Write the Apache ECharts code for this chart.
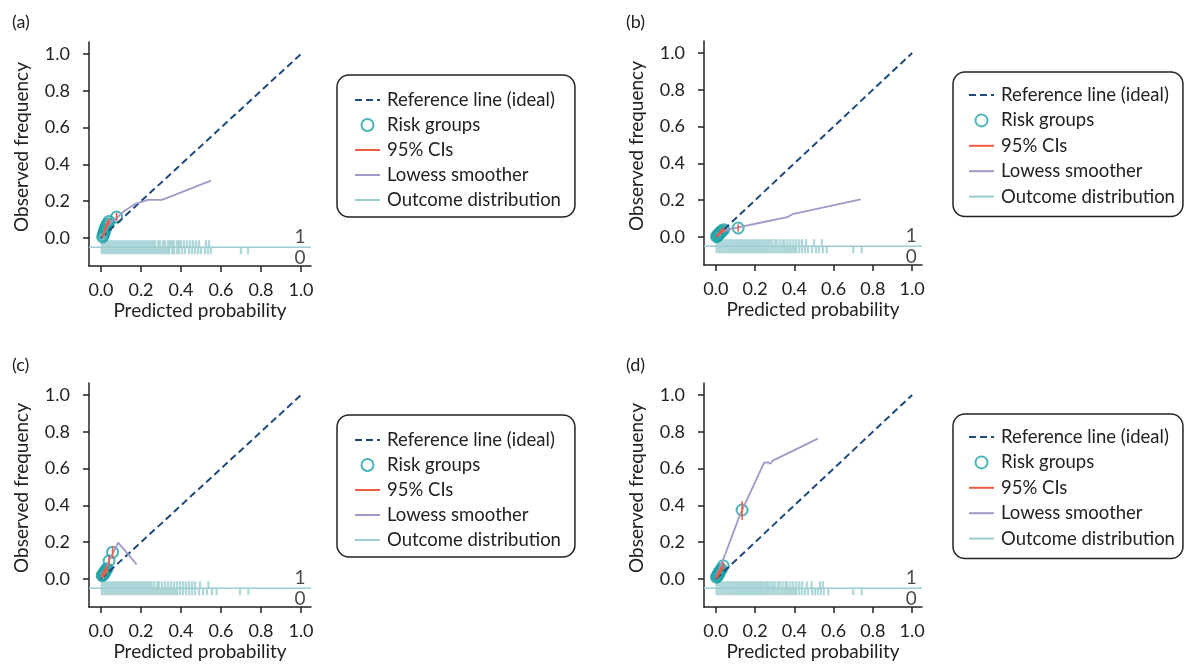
<!DOCTYPE html>
<html><head><meta charset="utf-8">
<script src="https://cdn.jsdelivr.net/npm/echarts@6/dist/echarts.min.js"></script>
<style>html,body{margin:0;padding:0;background:#fff}#c{width:1187px;height:664px}</style>
</head><body><div id="c"></div>
<script>
// ---------- text & ticks ----------
const tickValues = [0, 0.2, 0.4, 0.6, 0.8, 1.0];
const panelTags = ['(a)', '(b)', '(c)', '(d)'];
const seriesNames = ['Reference line (ideal)', 'Risk groups', '95% CIs', 'Lowess smoother', 'Outcome distribution'];
const xAxisTitle = 'Predicted probability';
const yAxisTitle = 'Observed frequency';
const outcomeLabels = ['1', '0'];
const outcomeLabelY = [0.005, -0.11];
const outcomeLabelX = 0.995;
const refLineX = [0, 1];
const refLineY = [0, 1];
const rugLevel = -0.05;
const X_MIN = -0.06, X_MAX = 1.05, Y_MIN = -0.152, Y_MAX = 1.065;

// ---------- panel (a) ----------
const groupXa = [0.008,0.012,0.015,0.018,0.021,0.024,0.028,0.033,0.040,0.078];
const groupYa = [0.006,0.016,0.027,0.038,0.048,0.058,0.068,0.078,0.090,0.114];
const ciLowA  = [0.000,0.008,0.018,0.028,0.037,0.046,0.055,0.064,0.074,0.092];
const ciHighA = [0.013,0.024,0.036,0.048,0.059,0.070,0.081,0.092,0.106,0.137];
const lowessXa = [0.010,0.020,0.030,0.050,0.080,0.120,0.170,0.235,0.305,0.550];
const lowessYa = [0.005,0.035,0.062,0.088,0.110,0.150,0.185,0.207,0.207,0.312];
const rugOneA = [0.004,0.014,0.024,0.034,0.044,0.054,0.064,0.074,0.084,0.094,0.104,0.114,0.124,0.134,0.144,0.154,0.164,0.174,0.184,0.194,0.204,0.214,0.224,0.234,0.244,0.254,0.264,0.27,
  0.285,0.295,0.31,0.32,0.335,0.345,0.355,0.365,0.38,0.39,0.40,0.415,0.43,0.445,0.46,0.475,0.49,0.525,0.54];
const rugZeroA = [0.004,0.014,0.024,0.034,0.044,0.054,0.064,0.074,0.084,0.094,0.104,0.114,0.124,0.134,0.144,0.154,0.164,0.174,0.184,0.194,0.204,0.214,0.224,0.234,0.244,0.254,0.264,0.274,0.284,0.294,0.304,0.314,0.324,0.334,0.34,
  0.355,0.365,0.38,0.39,0.405,0.42,0.44,0.455,0.47,0.485,0.50,0.52,0.535,0.55,0.70,0.735];

// ---------- panel (b) ----------
const groupXb = [0.004,0.008,0.011,0.014,0.018,0.022,0.026,0.031,0.040,0.114];
const groupYb = [0.002,0.006,0.010,0.014,0.018,0.023,0.028,0.033,0.040,0.049];
const ciLowB  = [0.000,0.001,0.004,0.007,0.010,0.014,0.018,0.022,0.028,0.030];
const ciHighB = [0.006,0.011,0.016,0.021,0.026,0.032,0.038,0.044,0.052,0.068];
const lowessXb = [0.003,0.030,0.060,0.120,0.250,0.365,0.390,0.738];
const lowessYb = [0.000,0.025,0.040,0.054,0.083,0.108,0.124,0.204];
const rugOneB = [0.004,0.014,0.024,0.034,0.044,0.054,0.064,0.074,0.084,0.094,0.104,0.114,0.124,0.134,0.144,0.154,0.164,0.174,0.184,0.194,0.204,0.214,0.224,0.234,0.244,0.254,0.264,0.274,
  0.285,0.30,0.31,0.325,0.34,0.35,0.365,0.38,0.395,0.41,0.425,0.44,0.46,0.50,0.54];
const rugZeroB = [0.004,0.014,0.024,0.034,0.044,0.054,0.064,0.074,0.084,0.094,0.104,0.114,0.124,0.134,0.144,0.154,0.164,0.174,0.184,0.194,0.204,0.214,0.224,0.234,0.244,0.254,0.264,0.274,0.284,0.294,0.304,0.314,0.324,0.334,0.344,0.354,0.364,0.374,0.384,0.394,0.404,0.41,
  0.425,0.44,0.455,0.47,0.49,0.51,0.525,0.545,0.565,0.70,0.743];

// ---------- panel (c) ----------
const groupXc = [0.006,0.009,0.012,0.015,0.018,0.021,0.025,0.030,0.040,0.058];
const groupYc = [0.018,0.022,0.026,0.031,0.036,0.042,0.049,0.056,0.098,0.146];
const ciLowC  = [0.005,0.009,0.013,0.017,0.021,0.026,0.032,0.038,0.072,0.112];
const ciHighC = [0.031,0.035,0.040,0.045,0.051,0.058,0.066,0.074,0.125,0.180];
const lowessXc = [0.007,0.020,0.040,0.086,0.178];
const lowessYc = [0.000,0.040,0.100,0.198,0.080];
const rugOneC = [0.004,0.014,0.024,0.034,0.044,0.054,0.064,0.074,0.084,0.094,0.104,0.114,0.124,0.134,0.144,0.154,0.164,0.174,0.184,0.194,0.204,0.214,0.224,0.234,0.244,0.253,
  0.265,0.28,0.29,0.305,0.32,0.335,0.35,0.365,0.38,0.395,0.41,0.425,0.44,0.455,0.47,0.495,0.537];
const rugZeroC = [0.004,0.014,0.024,0.034,0.044,0.054,0.064,0.074,0.084,0.094,0.104,0.114,0.124,0.134,0.144,0.154,0.164,0.174,0.184,0.194,0.204,0.214,0.224,0.234,0.244,0.254,0.264,0.274,0.284,0.294,0.304,0.314,0.324,0.334,0.344,0.354,0.364,0.374,0.38,
  0.395,0.41,0.425,0.44,0.455,0.47,0.49,0.51,0.53,0.555,0.578,0.695,0.737];

// ---------- panel (d) ----------
const groupXd = [0.004,0.007,0.010,0.013,0.016,0.019,0.023,0.028,0.038,0.134];
const groupYd = [0.010,0.015,0.020,0.026,0.032,0.038,0.045,0.053,0.072,0.375];
const ciLowD  = [0.002,0.006,0.010,0.015,0.020,0.025,0.031,0.038,0.052,0.322];
const ciHighD = [0.018,0.024,0.030,0.037,0.044,0.051,0.059,0.068,0.092,0.422];
const lowessXd = [0.003,0.050,0.122,0.246,0.265,0.277,0.290,0.520];
const lowessYd = [0.015,0.140,0.346,0.632,0.634,0.626,0.643,0.763];
const rugOneD = [0.004,0.014,0.024,0.034,0.044,0.054,0.064,0.074,0.084,0.094,0.104,0.114,0.124,0.134,0.144,0.154,0.164,0.174,0.184,0.194,0.204,0.214,0.224,0.234,0.244,0.254,0.264,0.267,
  0.28,0.29,0.30,0.315,0.325,0.34,0.355,0.365,0.38,0.395,0.41,0.425,0.44,0.463,0.488,0.53,0.545];
const rugZeroD = [0.004,0.014,0.024,0.034,0.044,0.054,0.064,0.074,0.084,0.094,0.104,0.114,0.124,0.134,0.144,0.154,0.164,0.174,0.184,0.194,0.204,0.214,0.224,0.234,0.244,0.254,0.264,0.274,0.284,0.294,0.304,0.314,0.324,0.334,0.344,0.354,0.364,0.374,0.384,0.394,0.404,0.41,
  0.425,0.44,0.455,0.47,0.49,0.505,0.52,0.535,0.55,0.573,0.70,0.743];

// ---------- assembly ----------
const panels = [
  {gx: groupXa, gy: groupYa, lo: ciLowA, hi: ciHighA, lx: lowessXa, ly: lowessYa, r1: rugOneA, r0: rugZeroA},
  {gx: groupXb, gy: groupYb, lo: ciLowB, hi: ciHighB, lx: lowessXb, ly: lowessYb, r1: rugOneB, r0: rugZeroB},
  {gx: groupXc, gy: groupYc, lo: ciLowC, hi: ciHighC, lx: lowessXc, ly: lowessYc, r1: rugOneC, r0: rugZeroC},
  {gx: groupXd, gy: groupYd, lo: ciLowD, hi: ciHighD, lx: lowessXd, ly: lowessYd, r1: rugOneD, r0: rugZeroD}
];
const layouts = [
  {grid:{left:89, top:42, width:222, height:224}, legend:{left:337, top:75, padding:[15,14,7,17], itemGap:5}, tag:{left:12, top:13}},
  {grid:{left:704, top:41, width:218, height:224}, legend:{left:953, top:72, padding:[13,8,10,15], itemGap:5.4}, tag:{left:626, top:13}},
  {grid:{left:89, top:383, width:222, height:224}, legend:{left:337, top:415, padding:[15,14,7,17], itemGap:5}, tag:{left:12, top:356}},
  {grid:{left:704, top:383, width:218, height:224}, legend:{left:953, top:414, padding:[13,8,10,15], itemGap:5.4}, tag:{left:626, top:356}}
];

const FONT = 'Lato';
const INK = '#222';
const C_REF = '#1f4a7c', C_GRP = '#1fa3a6', C_CI = '#ef5a45', C_LOW = '#9d9bc8', C_RUG = '#9ccdd1';

const zip = (a, b) => a.map((v, k) => [v, b[k]]);

const series = [];
panels.forEach((p, i) => {
  const ax = {xAxisIndex: i, yAxisIndex: i};
  series.push(Object.assign({type:'line', name:'Outcome distribution', data:[[X_MIN, rugLevel],[X_MAX, rugLevel]],
    symbol:'none', itemStyle:{color:C_RUG}, lineStyle:{color:C_RUG, width:1.5}, silent:true}, ax));
  series.push(Object.assign({type:'scatter', name:'Outcome distribution', data:p.r1.map(v => [v, rugLevel]),
    symbol:'rect', symbolSize:[2.3, 7], symbolOffset:[0, -3.5], itemStyle:{color:C_RUG}, silent:true}, ax));
  series.push(Object.assign({type:'scatter', name:'Outcome distribution', data:p.r0.map(v => [v, rugLevel]),
    symbol:'rect', symbolSize:[2.3, 7], symbolOffset:[0, 3.5], itemStyle:{color:C_RUG}, silent:true}, ax));
  series.push(Object.assign({type:'line', name:'Reference line (ideal)', data:zip(refLineX, refLineY),
    symbol:'none', itemStyle:{color:C_REF}, lineStyle:{color:C_REF, width:2, type:[7,4]}, silent:true}, ax));
  series.push(Object.assign({type:'scatter', name:'Risk groups', data:zip(p.gx, p.gy),
    symbol:'circle', symbolSize:11, itemStyle:{color:'rgba(255,255,255,0)', borderColor:C_GRP, borderWidth:2}, silent:true}, ax));
  series.push(Object.assign({type:'line', name:'Lowess smoother', data:zip(p.lx, p.ly),
    symbol:'none', itemStyle:{color:C_LOW}, lineStyle:{color:C_LOW, width:1.8}, silent:true}, ax));
  const ci = [];
  p.gx.forEach((x, k) => { ci.push([x, p.lo[k]], [x, p.hi[k]], ['-', '-']); });
  series.push(Object.assign({type:'line', name:'95% CIs', data:ci, connectNulls:false,
    symbol:'none', itemStyle:{color:C_CI}, lineStyle:{color:C_CI, width:1.6}, silent:true}, ax));
  series.push(Object.assign({type:'scatter', name:'outcome labels', data:outcomeLabels.map((t, k) => ({name:t, value:[outcomeLabelX, outcomeLabelY[k]]})),
    symbolSize:0, itemStyle:{color:INK}, silent:true,
    label:{show:true, position:[0, 0], align:'center', verticalAlign:'middle', formatter:'{b}', fontSize:19, fontFamily:FONT, color:'#1a1a1a'}}, ax));
});

const axisCommon = {
  type:'value', splitLine:{show:false},
  axisLine:{onZero:false, lineStyle:{color:INK, width:1.5}},
  axisTick:{customValues:tickValues, length:6, lineStyle:{color:INK, width:1.5}},
  nameLocation:'middle'
};

const legendData = seriesNames.map(n => n === 'Risk groups' ? {name:n} : {name:n, itemStyle:{opacity:0}});

const option = {
  animation:false,
  backgroundColor:'#fff',
  title: layouts.map((l, i) => ({text:panelTags[i], left:l.tag.left, top:l.tag.top, padding:0,
    textStyle:{fontSize:18, fontWeight:'normal', fontFamily:FONT, color:INK}})),
  grid: layouts.map(l => Object.assign({outerBoundsMode:'none', containLabel:false}, l.grid)),
  xAxis: layouts.map((l, i) => Object.assign({}, axisCommon, {gridIndex:i, min:X_MIN, max:X_MAX,
    axisLabel:{customValues:tickValues, formatter:v => v.toFixed(1), margin:15, fontSize:18, fontFamily:FONT, color:INK},
    name:xAxisTitle, nameGap:35, nameTextStyle:{fontSize:19, fontFamily:FONT, color:INK}})),
  yAxis: layouts.map((l, i) => Object.assign({}, axisCommon, {gridIndex:i, min:Y_MIN, max:Y_MAX,
    axisLabel:{customValues:tickValues, formatter:v => v.toFixed(1), margin:19, fontSize:18, fontFamily:FONT, color:INK},
    name:yAxisTitle, nameGap:58, nameTextStyle:{fontSize:19, fontFamily:FONT, color:INK, padding:[0,0,0,14]}})),
  legend: layouts.map(l => ({orient:'vertical', left:l.legend.left, top:l.legend.top, padding:l.legend.padding,
    itemGap:l.legend.itemGap, itemWidth:25, itemHeight:12, borderColor:INK, borderWidth:1.5, borderRadius:12,
    selectedMode:false, data:legendData,
    textStyle:{fontSize:18.5, fontFamily:FONT, color:INK, lineHeight:20, padding:[0,0,0,2]}})),
  series: series
};

const chart = echarts.init(document.getElementById('c'), null, {renderer:'canvas'});
chart.setOption(option);
</script></body></html>
